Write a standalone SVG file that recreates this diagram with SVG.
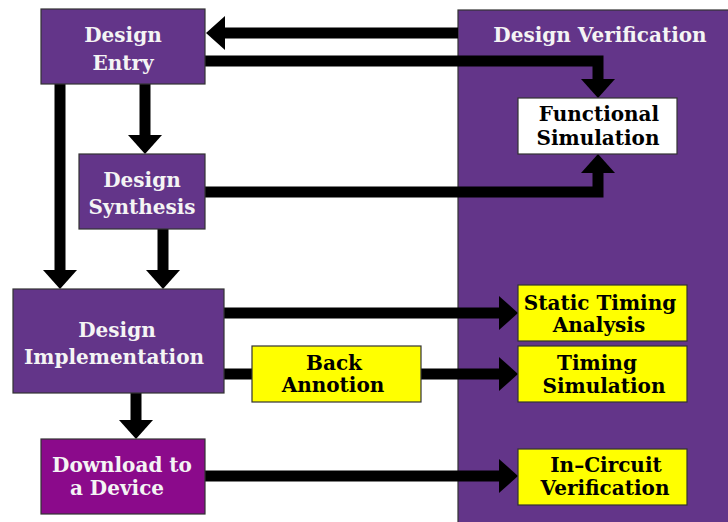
<svg xmlns="http://www.w3.org/2000/svg" width="728" height="522" viewBox="0 0 728 522">
<defs>
<style>
.box{stroke:#333;stroke-width:1.2}
.purple{fill:#633589}
.magenta{fill:#8B0A8B}
.yellow{fill:#FFFF00}
.white{fill:#FFFFFF}
.t{font-family:"DejaVu Serif","Liberation Serif",serif;font-weight:bold;font-size:20px;text-anchor:middle}
.tw{fill:#F4F4F4}
.tb{fill:#000}
.c{fill:none;stroke:#000;stroke-width:11;stroke-linejoin:miter;stroke-linecap:butt}
</style>
<marker id="ah" viewBox="0 0 19 34" refX="0" refY="17" markerWidth="19" markerHeight="34" markerUnits="userSpaceOnUse" orient="auto">
<path d="M0,0 L19,17 L0,34 Z" fill="#000"/>
</marker>
</defs>
<rect width="728" height="522" fill="#fff"/>
<g id="design-verification">
<rect class="box purple" x="458" y="10" width="280" height="520"/>
<text class="t tw" x="600" y="42">Design Verification</text>
</g>
<g id="connectors">
<path class="c" d="M458,33 H225" marker-end="url(#ah)"/>
<path class="c" d="M205,61 H598 V79" marker-end="url(#ah)"/>
<path class="c" d="M205,192 H598 V173" marker-end="url(#ah)"/>
<path class="c" d="M145,84 V135" marker-end="url(#ah)"/>
<path class="c" d="M60,84 V270" marker-end="url(#ah)"/>
<path class="c" d="M163,229 V270" marker-end="url(#ah)"/>
<path class="c" d="M224,313 H499" marker-end="url(#ah)"/>
<path class="c" d="M224,374 H252"/>
<path class="c" d="M421,374 H499" marker-end="url(#ah)"/>
<path class="c" d="M136,393 V420" marker-end="url(#ah)"/>
<path class="c" d="M205,476 H499" marker-end="url(#ah)"/>
</g>
<g id="design-entry">
<rect class="box purple" x="41" y="9" width="164" height="75"/>
<text class="t tw" x="123" y="42">Design</text>
<text class="t tw" x="123" y="70">Entry</text>
</g>
<g id="design-synthesis">
<rect class="box purple" x="79" y="154" width="126" height="75"/>
<text class="t tw" x="142" y="187">Design</text>
<text class="t tw" x="142" y="214">Synthesis</text>
</g>
<g id="design-implementation">
<rect class="box purple" x="13" y="289" width="211" height="104"/>
<text class="t tw" x="117" y="337">Design</text>
<text class="t tw" x="114" y="364">Implementation</text>
</g>
<g id="download">
<rect class="box magenta" x="41" y="439" width="164" height="75"/>
<text class="t tw" x="122" y="472">Download to</text>
<text class="t tw" x="117" y="495">a Device</text>
</g>
<g id="back-annotion">
<rect class="box yellow" x="252" y="346" width="169" height="56"/>
<text class="t tb" x="334" y="370">Back</text>
<text class="t tb" x="333" y="392">Annotion</text>
</g>
<g id="functional-simulation">
<rect class="box white" x="518" y="98" width="159" height="56"/>
<text class="t tb" x="599" y="121">Functional</text>
<text class="t tb" x="598" y="145">Simulation</text>
</g>
<g id="static-timing">
<rect class="box yellow" x="518" y="285" width="169" height="56"/>
<text class="t tb" x="600" y="310">Static Timing</text>
<text class="t tb" x="599" y="332">Analysis</text>
</g>
<g id="timing-simulation">
<rect class="box yellow" x="518" y="346" width="169" height="56"/>
<text class="t tb" x="597" y="370">Timing</text>
<text class="t tb" x="604" y="393">Simulation</text>
</g>
<g id="in-circuit">
<rect class="box yellow" x="518" y="449" width="169" height="56"/>
<text class="t tb" x="606" y="472">In–Circuit</text>
<text class="t tb" x="605" y="495">Verification</text>
</g>
</svg>
